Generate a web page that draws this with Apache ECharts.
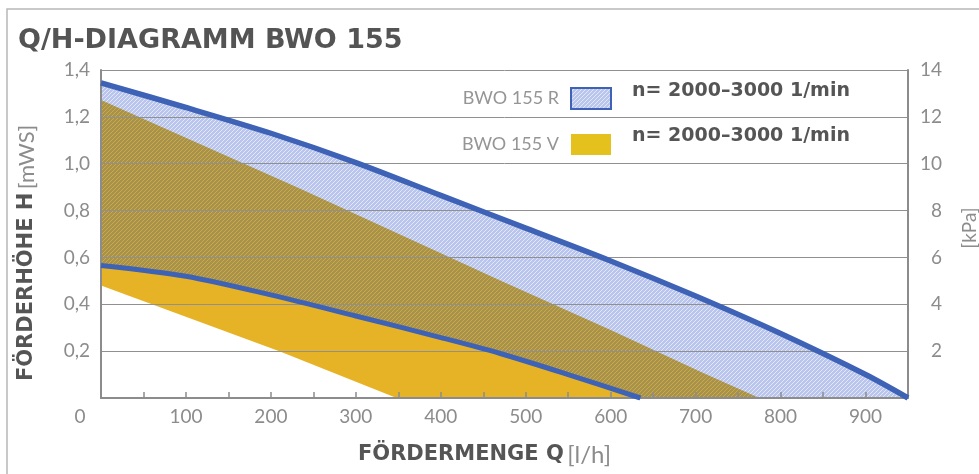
<!DOCTYPE html>
<html>
<head>
<meta charset="utf-8">
<script src="https://cdn.jsdelivr.net/npm/echarts@6/dist/echarts.min.js"></script>
<style>
  html, body { margin: 0; padding: 0; background: #ffffff; }
  #chart { width: 979px; height: 474px; }
</style>
</head>
<body>
<div id="chart"></div>
<script>
// ---- Data ----
// Q in l/h, H in mWS
const rUpper = [[0,1.345],[100,1.24],[200,1.13],[300,1.005],[400,0.865],[500,0.725],[600,0.585],[700,0.435],[800,0.275],[900,0.1],[950,0]];
const rLower = [[0,0.566],[100,0.52],[200,0.44],[300,0.35],[400,0.258],[470,0.19],[550,0.1],[635,0]];
const vUpper = [[0,1.272],[234,0.894],[470,0.502],[600,0.29],[707,0.11],[775,0]];
const vLower = [[0,0.48],[210,0.2],[348,0]];
const seriesNames = ['BWO 155 R', 'BWO 155 V'];
const speedLabel = 'n= 2000–3000 1/min';
const titleText = 'Q/H-DIAGRAMM BWO 155';
const xName = ['FÖRDERMENGE Q', '[l/h]'];
const yName = ['FÖRDERHÖHE H', '[mWS]'];
const y2Name = '[kPa]';

function hatch(base, line, alpha) {
  const s = 4;
  const c = document.createElement('canvas');
  c.width = s; c.height = s;
  const g = c.getContext('2d');
  g.fillStyle = base; g.fillRect(0, 0, s, s);
  g.globalAlpha = alpha;
  g.fillStyle = line;
  for (let i = 0; i < s; i++) { g.fillRect((s - 1 - i), i, 1, 1); }
  return { image: c, repeat: 'repeat' };
}
const blueHatch = hatch('#b9c5ec', '#ffffff', 0.6);
const oliveHatch = hatch('#a8914a', '#d4b54a', 0.75);
const yellow = '#e7b326';
const blueLine = '#3e62b6';
const gray = '#8c8c8c';
const dark = '#555555';

const chart = echarts.init(document.getElementById('chart'), null, { renderer: 'canvas' });

const areaBase = { type: 'line', showSymbol: false, symbol: 'none', lineStyle: { width: 0 }, smooth: 0.3, silent: true };
const labelFont = { color: gray, fontFamily: 'Lato', fontSize: 19 };

chart.setOption({
  animation: false,
  backgroundColor: '#ffffff',
  title: {
    text: titleText, left: 13, top: 22,
    textStyle: { fontFamily: 'DejaVu Sans', fontWeight: 'bold', fontSize: 27, color: '#545454' }
  },
  legend: {
    data: [
      { name: seriesNames[0], itemStyle: { color: blueHatch, borderColor: blueLine, borderWidth: 2 } },
      { name: seriesNames[1], itemStyle: { color: '#e5c11e', borderWidth: 0 } }
    ],
    orient: 'vertical', right: 362, top: 82, align: 'right',
    icon: 'rect', itemWidth: 40, itemHeight: 21, itemGap: 24, selectedMode: false,
    textStyle: { fontFamily: 'Lato', fontSize: 18, color: '#959595', padding: [0, 7, 0, 0] }
  },
  graphic: [
    { type: 'rect', shape: { x: 7, y: 9, width: 1000, height: 500 }, style: { fill: 'none', stroke: '#b8b8b8', lineWidth: 1.5 }, z: -10, silent: true },
    { type: 'text', left: 632, top: 82, style: { text: speedLabel, font: 'bold 19px "DejaVu Sans"', fill: dark }, z: 20 },
    { type: 'text', left: 632, top: 127, style: { text: speedLabel, font: 'bold 19px "DejaVu Sans"', fill: dark }, z: 20 }
  ],
  grid: { left: 101, right: 71, top: 70, bottom: 76, containLabel: false, outerBoundsMode: 'none' },
  xAxis: {
    type: 'value', min: 0, max: 950, interval: 50, z: 5,
    name: '{b|' + xName[0] + '} {l|' + xName[1] + '}',
    nameLocation: 'middle', nameGap: 45,
    nameTextStyle: { rich: {
      b: { fontFamily: 'DejaVu Sans', fontWeight: 'bold', fontSize: 21, color: dark },
      l: { fontFamily: 'Lato', fontSize: 24, color: gray }
    }, padding: [0, 40, 0, 0] },
    axisLine: { show: true, lineStyle: { color: '#8c8c8c', width: 2 } },
    axisTick: { show: true, inside: true, length: 6, lineStyle: { color: '#8c8c8c', width: 1.5 } },
    axisLabel: Object.assign({}, labelFont, {
      margin: 9,
      showMaxLabel: false,
      formatter: function (v) { if (v === 0) return '{z|0}'; return v % 100 === 0 ? String(v) : ''; },
      rich: { z: Object.assign({}, labelFont, { padding: [0, 42, 0, 0] }) }
    }),
    splitLine: { show: false }
  },
  yAxis: [
    {
      type: 'value', min: 0, max: 1.4, interval: 0.2, z: 5,
      name: '{b|' + yName[0] + '} {l|' + yName[1] + '}',
      nameLocation: 'middle', nameGap: 63, nameRotate: 90,
      nameTextStyle: { rich: {
        b: { fontFamily: 'DejaVu Sans', fontWeight: 'bold', fontSize: 21, color: dark },
        l: { fontFamily: 'Lato', fontSize: 22, color: gray }
      }, padding: [0, 38, 0, 0] },
      axisLine: { show: true, lineStyle: { color: '#8c8c8c', width: 2 } },
      axisTick: { show: false },
      axisLabel: Object.assign({}, labelFont, { showMinLabel: false, margin: 11,
        formatter: function (v) { return v.toFixed(1).replace('.', ','); } }),
      splitLine: { show: true, lineStyle: { color: '#909090', width: 1 } }
    },
    {
      type: 'value', min: 0, max: 14, interval: 2, position: 'right', z: 5,
      name: y2Name, nameLocation: 'middle', nameGap: 52, nameRotate: 90,
      nameTextStyle: { fontFamily: 'Lato', fontSize: 19, color: gray, padding: [0, 0, 0, 12] },
      axisLine: { show: true, lineStyle: { color: '#8c8c8c', width: 2 } },
      axisTick: { show: false },
      axisLabel: Object.assign({}, labelFont, { showMinLabel: false, margin: 34, align: 'right' }),
      splitLine: { show: false }
    }
  ],
  series: [
    Object.assign({}, areaBase, { name: seriesNames[0], data: rUpper, z: 1, itemStyle: { color: blueLine }, areaStyle: { color: blueHatch, opacity: 1 } }),
    Object.assign({}, areaBase, { name: seriesNames[1], data: vUpper, z: 2, smooth: false, itemStyle: { color: yellow }, areaStyle: { color: oliveHatch, opacity: 1 } }),
    Object.assign({}, areaBase, { name: 'R lower fill', data: rLower, z: 3, areaStyle: { color: yellow, opacity: 1 } }),
    Object.assign({}, areaBase, { name: 'V lower fill', data: vLower, z: 4, smooth: false, areaStyle: { color: '#ffffff', opacity: 1 } }),
    { type: 'line', name: 'R upper line', data: rUpper, z: 6, symbol: 'none', smooth: 0.3, silent: true, lineStyle: { color: blueLine, width: 5.5 } },
    { type: 'line', name: 'R lower line', data: rLower, z: 6, symbol: 'none', smooth: 0.3, silent: true, lineStyle: { color: blueLine, width: 5 } }
  ]
});
</script>
</body>
</html>
